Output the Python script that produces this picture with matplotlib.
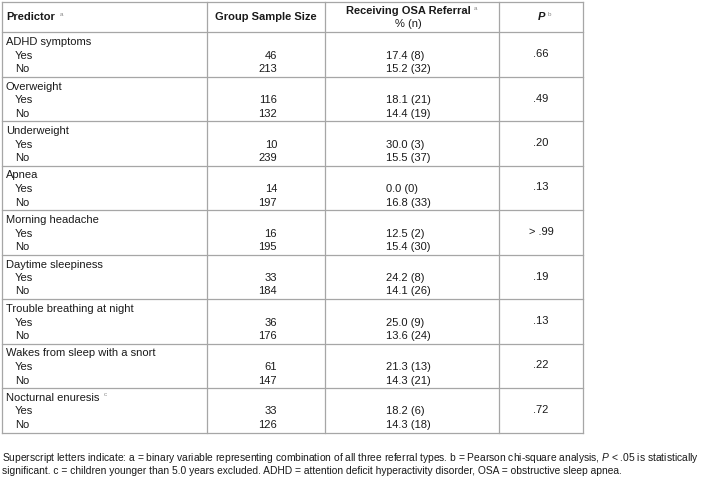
import matplotlib.pyplot as plt

plt.rcParams["font.family"] = ["Liberation Sans", "DejaVu Sans"]
plt.rcParams["mathtext.fontset"] = "custom"
plt.rcParams["mathtext.rm"] = "Liberation Sans"
plt.rcParams["mathtext.it"] = "Liberation Sans:italic"

predictors = [
    "ADHD symptoms",
    "Overweight",
    "Underweight",
    "Apnea",
    "Morning headache",
    "Daytime sleepiness",
    "Trouble breathing at night",
    "Wakes from sleep with a snort",
    "Nocturnal enuresis",
]
predictor_notes = ["", "", "", "", "", "", "", "", "c"]
size_yes = [46, 116, 10, 14, 16, 33, 36, 61, 33]
size_no = [213, 132, 239, 197, 195, 184, 176, 147, 126]
pct_yes = [17.4, 18.1, 30.0, 0.0, 12.5, 24.2, 25.0, 21.3, 18.2]
n_yes = [8, 21, 3, 0, 2, 8, 9, 13, 6]
pct_no = [15.2, 14.4, 15.5, 16.8, 15.4, 14.1, 13.6, 14.3, 14.3]
n_no = [32, 19, 37, 33, 30, 26, 24, 21, 18]
p_values = [".66", ".49", ".20", ".13", "> .99", ".19", ".13", ".22", ".72"]

footnote = [
    "Superscript letters indicate: a = binary variable representing combination of all three "
    "referral types. b = Pearson chi-square analysis, $P$ < .05 is statistically",
    "significant. c = children younger than 5.0 years excluded. ADHD = attention deficit "
    "hyperactivity disorder, OSA = obstructive sleep apnea.",
]

fig = plt.figure(figsize=(7.05, 4.79), dpi=100)
ax = fig.add_axes([0, 0, 1, 1])
ax.set_xlim(0, 705)
ax.set_ylim(479, 0)
ax.axis("off")

fs = 8
txt = "#1a1a1a"
line = "#a6a6a6"
sup = dict(fontsize=4.5, va="center", color="#888888")

# table grid (pixel coordinates)
x_cols = [2, 207, 325, 499, 583]
y_top, y_head = 2, 32
row_h = 44.5
y_rows = [y_head + i * row_h for i in range(len(predictors) + 1)]

for y in [y_top] + y_rows:
    ax.plot([x_cols[0], x_cols[-1]], [y, y], color=line, lw=0.9)
for x in x_cols:
    ax.plot([x, x], [y_top, y_rows[-1]], color=line, lw=0.9)

# header
ax.text(6, 17, "Predictor", fontsize=fs, weight="bold", va="center", color=txt)
ax.text(60, 14, "a", **sup)
ax.text(266, 17, "Group Sample Size", fontsize=fs, weight="bold",
        ha="center", va="center", color=txt)
ax.text(408, 11, "Receiving OSA Referral", fontsize=fs, weight="bold",
        ha="center", va="center", color=txt)
ax.text(474, 8, "a", **sup)
ax.text(408, 24, "% (n)", fontsize=fs, ha="center", va="center", color=txt)
ax.text(541, 17, "P", fontsize=fs, weight="bold", style="italic",
        ha="center", va="center", color=txt)
ax.text(548, 14, "b", **sup)

for i, name in enumerate(predictors):
    top = y_rows[i]
    ax.text(6, top + 10, name, fontsize=fs, va="center", color=txt)
    if predictor_notes[i]:
        ax.text(104, top + 7, predictor_notes[i], **sup)
    ax.text(15, top + 23.5, "Yes", fontsize=fs, va="center", color=txt)
    ax.text(15, top + 37, "No", fontsize=fs, va="center", color=txt)
    ax.text(277, top + 23.5, str(size_yes[i]), fontsize=fs, ha="right",
            va="center", color=txt)
    ax.text(277, top + 37, str(size_no[i]), fontsize=fs, ha="right",
            va="center", color=txt)
    ax.text(386, top + 23.5, f"{pct_yes[i]:.1f} ({n_yes[i]})", fontsize=fs,
            va="center", color=txt)
    ax.text(386, top + 37, f"{pct_no[i]:.1f} ({n_no[i]})", fontsize=fs,
            va="center", color=txt)
    ax.text(541, top + 22, p_values[i], fontsize=fs, ha="center",
            va="center", color=txt)

ax.text(2, 458, footnote[0], fontsize=7.35, va="center", color=txt)
ax.text(2, 471, footnote[1], fontsize=7.35, va="center", color=txt)

fig.savefig("out.png", dpi=100)
